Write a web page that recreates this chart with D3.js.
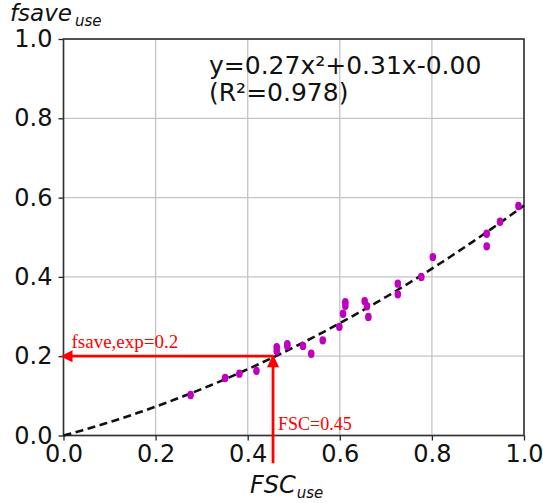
<!DOCTYPE html>
<html>
<head>
<meta charset="utf-8">
<script src="https://cdn.jsdelivr.net/npm/d3@7"></script>
<style>
  body { margin: 0; background: #fff; }
  svg { display: block; }
  .tick text { font-family: "DejaVu Sans", sans-serif; font-size: 24px; fill: #111; }
</style>
</head>
<body>
<svg width="543" height="503"></svg>
<script>
const fscUse = [0.276, 0.351, 0.382, 0.419, 0.463, 0.463, 0.486, 0.486, 0.520, 0.538,
  0.563, 0.599, 0.607, 0.612, 0.612, 0.654, 0.659, 0.662, 0.726, 0.726,
  0.777, 0.802, 0.919, 0.919, 0.948, 0.988]
const fsaveUse = [0.102, 0.145, 0.156, 0.163, 0.223, 0.213, 0.230, 0.226, 0.226, 0.206,
  0.240, 0.274, 0.307, 0.336, 0.327, 0.339, 0.326, 0.299, 0.383, 0.356,
  0.400, 0.450, 0.509, 0.477, 0.539, 0.579]

// fit: y = a x^2 + b x + c
const fitCoef = [0.27, 0.31, 0.00]
const fitX = d3.range(0, 1.0001, 0.01)

const tickVals = [0, 0.2, 0.4, 0.6, 0.8, 1.0]

// annotation
const fscExp = 0.455
const fsaveExp = 0.2
const arrowFrom = -0.07

const svg = d3.select('svg')

const plotL = 63.5, plotR = 524, plotT = 39, plotB = 435.5

const scaleX = d3.scaleLinear().domain([0, 1]).range([plotL, plotR])
const scaleY = d3.scaleLinear().domain([0, 1]).range([plotB, plotT])

// grid
svg.append('g')
  .selectAll('line')
  .data(tickVals)
  .enter()
  .append('line')
  .attr('x1', d => scaleX(d)).attr('x2', d => scaleX(d))
  .attr('y1', plotT).attr('y2', plotB)
  .attr('stroke', '#c4c4c4').attr('stroke-width', 1.3)

svg.append('g')
  .selectAll('line')
  .data(tickVals)
  .enter()
  .append('line')
  .attr('y1', d => scaleY(d)).attr('y2', d => scaleY(d))
  .attr('x1', plotL).attr('x2', plotR)
  .attr('stroke', '#c4c4c4').attr('stroke-width', 1.3)

// axes
const axisX = d3.axisBottom(scaleX)
  .tickValues(tickVals)
  .tickFormat(d3.format('.1f'))
  .tickSizeInner(5)
  .tickSizeOuter(0)
  .tickPadding(4)

const axisY = d3.axisLeft(scaleY)
  .tickValues(tickVals)
  .tickFormat(d3.format('.1f'))
  .tickSizeInner(5)
  .tickSizeOuter(0)
  .tickPadding(6)

svg.append('g')
  .attr('transform', `translate(0, ${plotB})`)
  .call(axisX)
  .call(g => g.select('.domain').remove())

svg.append('g')
  .attr('transform', `translate(${plotL}, 0)`)
  .call(axisY)
  .call(g => g.select('.domain').remove())

svg.selectAll('.tick line').attr('stroke', '#222').attr('stroke-width', 1.3)

// frame
svg.append('rect')
  .attr('x', plotL).attr('y', plotT)
  .attr('width', plotR - plotL).attr('height', plotB - plotT)
  .attr('fill', 'none')
  .attr('stroke', '#333')
  .attr('stroke-width', 1.6)

// fit curve
const fitLine = d3.line()
  .x(d => scaleX(d))
  .y(d => scaleY(fitCoef[0] * d * d + fitCoef[1] * d + fitCoef[2]))

svg.append('path')
  .datum(fitX)
  .attr('d', fitLine)
  .attr('fill', 'none')
  .attr('stroke', '#111')
  .attr('stroke-width', 2.6)
  .attr('stroke-dasharray', '8,4.5')

// points
svg.append('g')
  .selectAll('ellipse')
  .data(fscUse)
  .enter()
  .append('ellipse')
  .attr('cx', (d, i) => scaleX(d))
  .attr('cy', (d, i) => scaleY(fsaveUse[i]))
  .attr('rx', 3.3)
  .attr('ry', 4.2)
  .attr('fill', '#bf00bf')

// red arrows
const red = '#ff0000'
const hx = scaleX(fscExp), hy = scaleY(fsaveExp)

svg.append('line')
  .attr('x1', hx).attr('y1', hy)
  .attr('x2', scaleX(0) + 8).attr('y2', hy)
  .attr('stroke', red).attr('stroke-width', 2.8)

svg.append('path')
  .attr('d', `M${scaleX(0) - 3},${hy} L${scaleX(0) + 9},${hy - 6} L${scaleX(0) + 9},${hy + 6} Z`)
  .attr('fill', red)

svg.append('line')
  .attr('x1', hx).attr('y1', scaleY(arrowFrom))
  .attr('x2', hx).attr('y2', hy + 8)
  .attr('stroke', red).attr('stroke-width', 2.8)

svg.append('path')
  .attr('d', `M${hx},${hy - 2} L${hx - 6},${hy + 11} L${hx + 6},${hy + 11} Z`)
  .attr('fill', red)

svg.append('text')
  .attr('x', scaleX(0) + 8).attr('y', hy - 8)
  .attr('font-family', '"Liberation Serif", serif')
  .attr('font-size', 19)
  .attr('fill', red)
  .text('fsave,exp=0.2')

svg.append('text')
  .attr('x', hx + 5).attr('y', 430)
  .attr('font-family', '"Liberation Serif", serif')
  .attr('font-size', 18)
  .attr('fill', red)
  .text('FSC=0.45')

// equation
const eq = svg.append('text')
  .attr('font-family', '"DejaVu Sans", sans-serif')
  .attr('font-size', 25)
  .attr('fill', '#111')
eq.append('tspan').attr('x', 209).attr('y', 74)
  .text(`y=${fitCoef[0].toFixed(2)}x²+${fitCoef[1].toFixed(2)}x-${fitCoef[2].toFixed(2)}`)
eq.append('tspan').attr('x', 209).attr('y', 101)
  .text('(R²=0.978)')

// axis titles
const yTitle = svg.append('text')
  .attr('x', 10).attr('y', 21)
  .attr('font-family', '"DejaVu Sans", sans-serif')
  .attr('font-style', 'italic')
  .attr('font-size', 23)
  .attr('fill', '#111')
yTitle.append('tspan').text('fsave')
yTitle.append('tspan').attr('font-size', 15).attr('dy', 5).attr('dx', 3).text('use')

const xTitle = svg.append('text')
  .attr('x', 250).attr('y', 493)
  .attr('font-family', '"DejaVu Sans", sans-serif')
  .attr('font-style', 'italic')
  .attr('font-size', 24)
  .attr('fill', '#111')
xTitle.append('tspan').text('FSC')
xTitle.append('tspan').attr('font-size', 15).attr('dy', 5).attr('dx', 1).text('use')
</script>
</body>
</html>
